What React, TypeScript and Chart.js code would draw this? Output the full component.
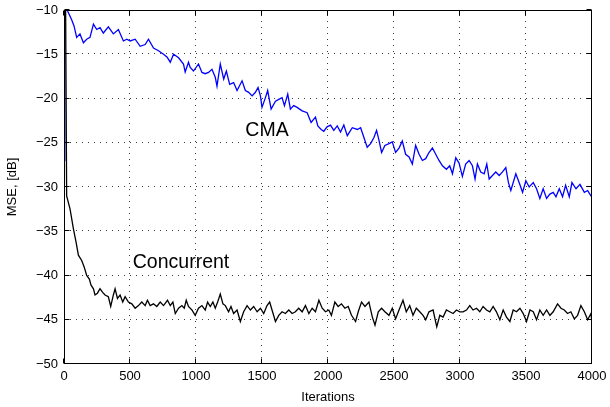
import React, { useEffect, useRef } from 'react';
import Chart from 'chart.js/auto';

// ---- data ----
const cmaIter = [0, 6, 30, 58, 76, 96, 121, 147, 172, 197, 223, 248, 273, 298, 336, 374, 412, 450, 476, 501, 539, 577, 615, 640, 678, 716, 754, 780, 805, 830, 868, 905, 918, 943, 956, 981, 1019, 1045, 1070, 1095, 1121, 1146, 1159, 1184, 1210, 1230, 1255, 1285, 1311, 1349, 1374, 1399, 1425, 1450, 1470, 1488, 1500, 1526, 1543, 1569, 1602, 1627, 1652, 1670, 1695, 1715, 1740, 1766, 1804, 1842, 1872, 1905, 1923, 1948, 1968, 1993, 2019, 2044, 2070, 2095, 2120, 2146, 2184, 2222, 2247, 2272, 2297, 2323, 2348, 2368, 2386, 2406, 2431, 2462, 2487, 2512, 2538, 2563, 2588, 2614, 2639, 2664, 2690, 2715, 2740, 2765, 2791, 2816, 2841, 2867, 2897, 2922, 2943, 2968, 2993, 3018, 3043, 3069, 3094, 3114, 3132, 3157, 3183, 3203, 3221, 3246, 3271, 3297, 3322, 3347, 3367, 3385, 3423, 3448, 3474, 3499, 3524, 3555, 3580, 3605, 3630, 3656, 3681, 3706, 3727, 3752, 3777, 3800, 3828, 3848, 3879, 3909, 3942, 3967, 3992, 4000];
const cmaMSE = [-27, -9, -10.2, -11.1, -11.8, -13.1, -12.7, -13.7, -13.3, -13.1, -11.6, -12.2, -12.0, -12.6, -11.9, -12.7, -12.2, -13.5, -13.3, -13.5, -13.3, -14.1, -13.9, -13.3, -14.3, -14.6, -15.0, -15.3, -15.9, -15.0, -15.4, -16.1, -17.0, -15.9, -16.5, -16.9, -16.1, -17.05, -17.2, -17.05, -16.7, -17.6, -18.6, -16.1, -17.8, -16.9, -18.4, -18.2, -19.1, -18.0, -19.1, -19.3, -19.7, -19.3, -18.75, -19.7, -21.0, -19.9, -19.1, -21.2, -20.3, -20.1, -19.9, -20.8, -19.5, -21.2, -20.8, -21.0, -21.4, -21.6, -22.7, -22.1, -23.1, -23.5, -23.7, -23.2, -23.0, -23.6, -23.1, -23.8, -23.0, -24.2, -23.3, -23.5, -23.3, -24.4, -25.5, -25.1, -24.4, -23.6, -24.7, -26.1, -25.3, -25.1, -24.9, -26.1, -25.6, -24.8, -26.3, -26.6, -27.4, -25.3, -26.3, -27.0, -26.8, -26.1, -25.6, -26.3, -27.0, -27.6, -28.0, -27.6, -28.5, -26.7, -27.3, -28.8, -27.4, -27.0, -27.6, -29.1, -27.4, -28.3, -28.5, -27.4, -29.1, -28.7, -28.3, -28.7, -28.3, -27.8, -29.5, -30.4, -28.5, -29.5, -30.6, -29.3, -30.0, -29.5, -30.2, -31.3, -30.2, -31.3, -30.8, -30.6, -31.1, -30.2, -31.1, -29.8, -31.1, -29.5, -30.2, -29.7, -30.6, -30.4, -31.0, -31.1];

const concIter = [12, 20, 46, 71, 91, 109, 134, 152, 172, 192, 205, 223, 235, 253, 273, 293, 311, 336, 354, 374, 387, 405, 425, 445, 463, 488, 514, 539, 564, 589, 615, 632, 653, 678, 703, 729, 754, 784, 805, 825, 843, 868, 893, 911, 926, 943, 969, 994, 1019, 1045, 1070, 1088, 1108, 1128, 1146, 1164, 1184, 1204, 1222, 1247, 1265, 1285, 1311, 1336, 1361, 1387, 1412, 1437, 1463, 1488, 1513, 1538, 1558, 1576, 1602, 1627, 1652, 1677, 1703, 1728, 1753, 1778, 1804, 1829, 1855, 1880, 1905, 1931, 1956, 1981, 2006, 2026, 2052, 2077, 2102, 2128, 2153, 2178, 2209, 2229, 2254, 2280, 2310, 2336, 2356, 2381, 2406, 2431, 2462, 2487, 2512, 2538, 2568, 2593, 2619, 2644, 2669, 2695, 2720, 2740, 2765, 2796, 2824, 2847, 2872, 2897, 2922, 2948, 2973, 2998, 3023, 3049, 3074, 3099, 3125, 3150, 3175, 3201, 3226, 3251, 3276, 3302, 3327, 3352, 3378, 3403, 3428, 3454, 3479, 3504, 3530, 3555, 3580, 3605, 3630, 3656, 3681, 3706, 3739, 3765, 3790, 3815, 3840, 3866, 3891, 3916, 3942, 3967, 3992, 4000];
const concMSE = [-9, -31.0, -32.5, -34.7, -36.2, -37.7, -38.3, -39.0, -40.0, -40.4, -41.1, -41.5, -42.2, -42.0, -41.5, -41.9, -42.2, -42.4, -43.5, -42.2, -41.5, -42.6, -42.2, -43.0, -42.4, -43.0, -43.2, -43.7, -43.4, -43.0, -43.4, -42.8, -43.4, -43.2, -43.5, -43.0, -43.4, -42.8, -43.4, -43.0, -44.3, -43.7, -43.4, -43.7, -42.8, -43.5, -43.9, -44.5, -43.7, -43.4, -43.9, -43.0, -43.5, -43.0, -43.7, -43.0, -42.1, -43.2, -43.4, -44.1, -43.5, -44.3, -43.9, -45.2, -44.1, -43.4, -43.9, -43.5, -44.1, -43.7, -44.3, -43.4, -43.0, -43.9, -45.2, -44.5, -44.1, -44.3, -43.9, -44.3, -44.1, -43.7, -44.1, -43.4, -44.3, -43.7, -44.1, -42.8, -43.7, -44.1, -43.9, -44.5, -43.0, -43.5, -43.2, -43.7, -43.5, -44.5, -45.2, -44.1, -43.0, -43.5, -43.0, -44.7, -45.6, -44.1, -43.7, -44.1, -44.5, -43.7, -44.9, -43.9, -42.8, -44.1, -43.4, -44.5, -43.7, -44.1, -44.5, -45.0, -44.1, -43.9, -45.8, -44.5, -44.7, -43.9, -44.1, -44.3, -43.9, -44.1, -44.1, -43.9, -43.4, -43.9, -43.7, -44.1, -43.5, -43.9, -44.1, -43.5, -44.1, -45.0, -43.9, -44.7, -45.2, -43.9, -44.1, -43.7, -44.3, -45.2, -43.9, -44.1, -45.0, -43.9, -44.5, -43.9, -44.5, -44.1, -43.2, -43.7, -43.9, -44.3, -44.1, -44.9, -44.5, -43.4, -44.1, -45.0, -44.3, -45.3];

const xTickValues = [0, 500, 1000, 1500, 2000, 2500, 3000, 3500, 4000];
const yTickValues = [-50, -45, -40, -35, -30, -25, -20, -15, -10];

const seriesNames = ['CMA', 'Concurrent'];
const textLabels = [
  { text: 'CMA', x: 1374, y: -24.2 },
  { text: 'Concurrent', x: 521, y: -39.2 },
];

const FONT = '"Liberation Sans", Arial, Helvetica, sans-serif';

const snap = (v: number) => Math.floor(v - 0.5) + 0.5;

const matlabAxes = {
  id: 'matlabAxes',
  beforeDatasetsDraw(chart: any) {
    const { ctx, chartArea: a, scales } = chart;
    const xs = scales.x, ys = scales.y;
    ctx.save();
    ctx.strokeStyle = '#3a3a3a';
    ctx.lineWidth = 1;
    ctx.setLineDash([1, 5]);
    for (const t of xTickValues) {
      if (t <= xs.min || t >= xs.max) continue;
      const px = snap(xs.getPixelForValue(t));
      ctx.beginPath();
      ctx.moveTo(px, a.bottom);
      ctx.lineTo(px, a.top);
      ctx.stroke();
    }
    for (const t of yTickValues) {
      if (t <= ys.min || t >= ys.max) continue;
      const py = snap(ys.getPixelForValue(t));
      ctx.beginPath();
      ctx.moveTo(a.left, py);
      ctx.lineTo(a.right, py);
      ctx.stroke();
    }
    ctx.restore();
  },
  afterDatasetsDraw(chart: any) {
    const { ctx, chartArea: a, scales } = chart;
    const xs = scales.x, ys = scales.y;
    ctx.save();
    ctx.strokeStyle = '#000';
    ctx.lineWidth = 1;
    ctx.setLineDash([]);
    const L = a.left + 0.5, R = a.right - 0.5, T = a.top + 0.5, B = a.bottom - 0.5;
    ctx.strokeRect(L, T, R - L, B - T);
    const tl = 5;
    ctx.beginPath();
    for (const t of xTickValues) {
      const px = snap(xs.getPixelForValue(t));
      ctx.moveTo(px, B); ctx.lineTo(px, B - tl);
      ctx.moveTo(px, T); ctx.lineTo(px, T + tl);
    }
    for (const t of yTickValues) {
      const py = snap(ys.getPixelForValue(t));
      ctx.moveTo(L, py); ctx.lineTo(L + tl, py);
      ctx.moveTo(R, py); ctx.lineTo(R - tl, py);
    }
    ctx.stroke();
    ctx.fillStyle = '#000';
    ctx.font = `19.5px ${FONT}`;
    ctx.textAlign = 'left';
    ctx.textBaseline = 'alphabetic';
    for (const lb of textLabels) {
      ctx.fillText(lb.text, xs.getPixelForValue(lb.x), ys.getPixelForValue(lb.y));
    }
    ctx.restore();
  },
};

export default function App() {
  const ref = useRef<HTMLCanvasElement | null>(null);
  useEffect(() => {
    document.body.style.margin = '0';
    document.body.style.overflow = 'hidden';
    const canvas = ref.current!;
    const chart = new Chart(canvas, {
      type: 'line',
      data: {
        datasets: [
          {
            label: seriesNames[1],
            data: concIter.map((x, i) => ({ x, y: concMSE[i] })),
            borderColor: '#000000',
            borderWidth: 1.3,
            pointRadius: 0,
            fill: false,
            tension: 0,
            clip: 0,
          },
          {
            label: seriesNames[0],
            data: cmaIter.map((x, i) => ({ x, y: cmaMSE[i] })),
            borderColor: '#0000ff',
            borderWidth: 1.3,
            pointRadius: 0,
            fill: false,
            tension: 0,
            clip: 0,
          },
        ],
      },
      options: {
        animation: false,
        responsive: false,
        maintainAspectRatio: false,
        events: [],
        layout: { padding: { top: 10, right: 18, left: 0, bottom: 0 } },
        plugins: { legend: { display: false }, tooltip: { enabled: false } },
        scales: {
          x: {
            type: 'linear',
            min: 0,
            max: 4000,
            afterFit: (s: any) => { s.height = 43; s.paddingRight = 0; s.paddingLeft = 0; },
            afterBuildTicks: (s: any) => { s.ticks = xTickValues.map((v) => ({ value: v })); },
            ticks: {
              color: '#000',
              font: { family: FONT, size: 13 },
              padding: 5,
              maxRotation: 0,
              autoSkip: false,
              callback: (v: any) => String(v),
            },
            grid: { display: false, drawTicks: false },
            border: { display: false },
            title: {
              display: true,
              text: 'Iterations',
              color: '#000',
              font: { family: FONT, size: 13 },
              padding: { top: 0, bottom: 2 },
            },
          },
          y: {
            type: 'linear',
            min: -50,
            max: -10,
            afterFit: (s: any) => { s.width = 64; s.paddingTop = 0; s.paddingBottom = 0; },
            afterBuildTicks: (s: any) => { s.ticks = yTickValues.map((v) => ({ value: v })); },
            ticks: {
              color: '#000',
              font: { family: FONT, size: 13 },
              padding: 6,
              callback: (v: any) => String(v).replace('-', '\u2212'),
            },
            grid: { display: false, drawTicks: false },
            border: { display: false },
            title: {
              display: true,
              text: 'MSE, [dB]',
              color: '#000',
              font: { family: FONT, size: 13 },
              padding: { top: 5, bottom: 0 },
            },
          },
        },
      },
      plugins: [matlabAxes],
    });
    return () => chart.destroy();
  }, []);
  return (
    <div style={{ width: 610, height: 407 }}>
      <canvas ref={ref} width={610} height={407} style={{ display: 'block' }} />
    </div>
  );
}
